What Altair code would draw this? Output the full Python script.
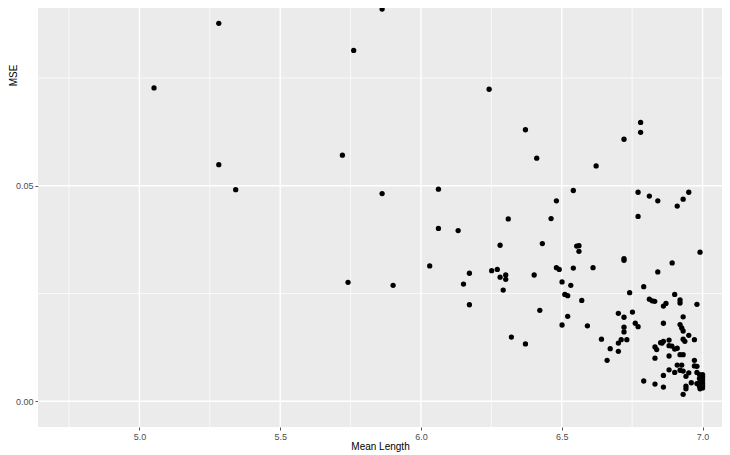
import altair as alt
import pandas as pd

mean_length = [
    5.052, 5.282, 5.282, 5.342, 5.862, 5.761, 6.242, 6.371, 6.411, 5.721,
    5.862, 6.062, 6.062, 6.132, 6.310, 6.281, 6.431, 6.462, 6.481, 6.541,
    6.622, 6.553, 6.561, 6.561, 5.741, 5.901, 6.031, 6.172, 6.151, 6.251,
    6.271, 6.281, 6.301, 6.301, 6.292, 6.402, 6.481, 6.491, 6.541, 6.611,
    6.501, 6.532, 6.511, 6.521, 6.571, 6.172, 6.422, 6.521, 6.501, 6.591,
    6.321, 6.371, 6.641, 6.780, 6.780, 6.721, 6.771, 6.811, 6.841, 6.951,
    6.931, 6.910, 6.771, 6.721, 6.721, 6.991, 6.892, 6.841, 6.741, 6.791,
    6.901, 6.811, 6.821, 6.830, 6.861, 6.870, 6.920, 6.920, 6.980, 6.701,
    6.721, 6.751, 6.761, 6.771, 6.721, 6.721, 6.861, 6.931, 6.920, 6.926,
    6.931, 6.951, 6.931, 6.937, 6.971, 6.711, 6.701, 6.731, 6.672, 6.701,
    6.661, 6.851, 6.861, 6.856, 6.881, 6.881, 6.831, 6.837, 6.891, 6.901,
    6.910, 6.920, 6.931, 6.881, 6.831, 6.971, 6.971, 6.980, 6.910, 6.926,
    6.881, 6.901, 6.920, 6.931, 6.951, 6.941, 6.980, 6.861, 6.989, 7.000,
    6.989, 7.000, 6.991, 7.000, 6.989, 7.000, 6.991, 6.980, 7.000, 7.000,
    7.000, 6.995, 6.960, 6.791, 6.831, 6.861, 6.941, 6.941, 6.931,
]
mse = [
    0.0727, 0.0877, 0.0549, 0.0491, 0.0910, 0.0814, 0.0724, 0.0630, 0.0564, 0.0571,
    0.0482, 0.0492, 0.0401, 0.0396, 0.0423, 0.0362, 0.0366, 0.0424, 0.0465, 0.0489,
    0.0546, 0.0360, 0.0361, 0.0348, 0.0276, 0.0269, 0.0314, 0.0297, 0.0272, 0.0303,
    0.0306, 0.0288, 0.0293, 0.0283, 0.0258, 0.0293, 0.0310, 0.0306, 0.0309, 0.0310,
    0.0277, 0.0269, 0.0248, 0.0245, 0.0234, 0.0224, 0.0211, 0.0197, 0.0177, 0.0175,
    0.0149, 0.0133, 0.0144, 0.0647, 0.0624, 0.0608, 0.0485, 0.0476, 0.0465, 0.0485,
    0.0469, 0.0453, 0.0429, 0.0331, 0.0327, 0.0346, 0.0321, 0.0300, 0.0252, 0.0266,
    0.0248, 0.0237, 0.0233, 0.0232, 0.0221, 0.0227, 0.0235, 0.0228, 0.0225, 0.0204,
    0.0195, 0.0207, 0.0181, 0.0173, 0.0172, 0.0161, 0.0181, 0.0196, 0.0178, 0.0170,
    0.0163, 0.0153, 0.0144, 0.0139, 0.0143, 0.0143, 0.0135, 0.0143, 0.0122, 0.0116,
    0.0095, 0.0136, 0.0139, 0.0135, 0.0142, 0.0129, 0.0126, 0.0120, 0.0128, 0.0121,
    0.0123, 0.0108, 0.0108, 0.0105, 0.0100, 0.0095, 0.0082, 0.0081, 0.0084, 0.0084,
    0.0073, 0.0067, 0.0072, 0.0070, 0.0066, 0.0058, 0.0067, 0.0060, 0.0062, 0.0062,
    0.0053, 0.0053, 0.0045, 0.0041, 0.0035, 0.0031, 0.0029, 0.0041, 0.0058, 0.0047,
    0.0036, 0.0033, 0.0043, 0.0047, 0.0040, 0.0033, 0.0035, 0.0029, 0.0016,
]

x_major = [5.0, 5.5, 6.0, 6.5, 7.0]
x_minor = [4.75, 5.25, 5.75, 6.25, 6.75]
y_major = [0.0, 0.05]
y_minor = [0.025, 0.075]

x_domain = [4.640, 7.069]
y_domain = [-0.00597, 0.09125]

pts = pd.DataFrame({"Mean Length": mean_length, "MSE": mse})
xs = alt.Scale(domain=x_domain, nice=False, zero=False)
ys = alt.Scale(domain=y_domain, nice=False, zero=False)

x_axis = alt.Axis(
    values=x_major, format=".1f", grid=False, domain=False,
    tickSize=3, tickColor="#555555", tickWidth=1,
    labelFontSize=9, labelColor="#4D4D4D", labelPadding=2,
    labelFlush=False, labelOverlap=False,
    title="Mean Length", titleFontSize=10, titleFontWeight="normal",
    titleColor="#000000", titleY=19, titleBaseline="middle",
)
y_axis = alt.Axis(
    values=y_major, format=".2f", grid=False, domain=False,
    tickSize=3, tickColor="#555555", tickWidth=1,
    labelFontSize=9, labelColor="#4D4D4D", labelPadding=2,
    labelFlush=False, labelOverlap=False,
    title="MSE", titleFontSize=10, titleFontWeight="normal",
    titleColor="#000000", titleX=-25, titleY=67, titleBaseline="middle",
    titleAngle=270, titleAlign="center",
)

points = alt.Chart(pts).mark_circle(size=28, color="black", opacity=1).encode(
    x=alt.X("Mean Length:Q", scale=xs, axis=x_axis),
    y=alt.Y("MSE:Q", scale=ys, axis=y_axis),
)
xminor = alt.Chart(pd.DataFrame({"v": x_minor})).mark_rule(
    color="white", strokeWidth=0.7
).encode(x=alt.X("v:Q", scale=xs, axis=x_axis))
yminor = alt.Chart(pd.DataFrame({"v": y_minor})).mark_rule(
    color="white", strokeWidth=0.7
).encode(y=alt.Y("v:Q", scale=ys, axis=y_axis))
xmajor = alt.Chart(pd.DataFrame({"v": x_major})).mark_rule(
    color="white", strokeWidth=1.4
).encode(x=alt.X("v:Q", scale=xs, axis=x_axis))
ymajor = alt.Chart(pd.DataFrame({"v": y_major})).mark_rule(
    color="white", strokeWidth=1.4
).encode(y=alt.Y("v:Q", scale=ys, axis=y_axis))

chart = alt.layer(xminor, yminor, xmajor, ymajor, points).properties(
    width=684, height=419,
    autosize=alt.AutoSizeParams(type="none"),
    padding={"left": 30, "top": 0, "right": 0, "bottom": 28},
    background="white",
).configure(
    font="Liberation Sans"
).configure_view(
    fill="#EBEBEB", strokeWidth=0
)

chart.save("out.html", embed_options={"renderer": "svg", "actions": False})
